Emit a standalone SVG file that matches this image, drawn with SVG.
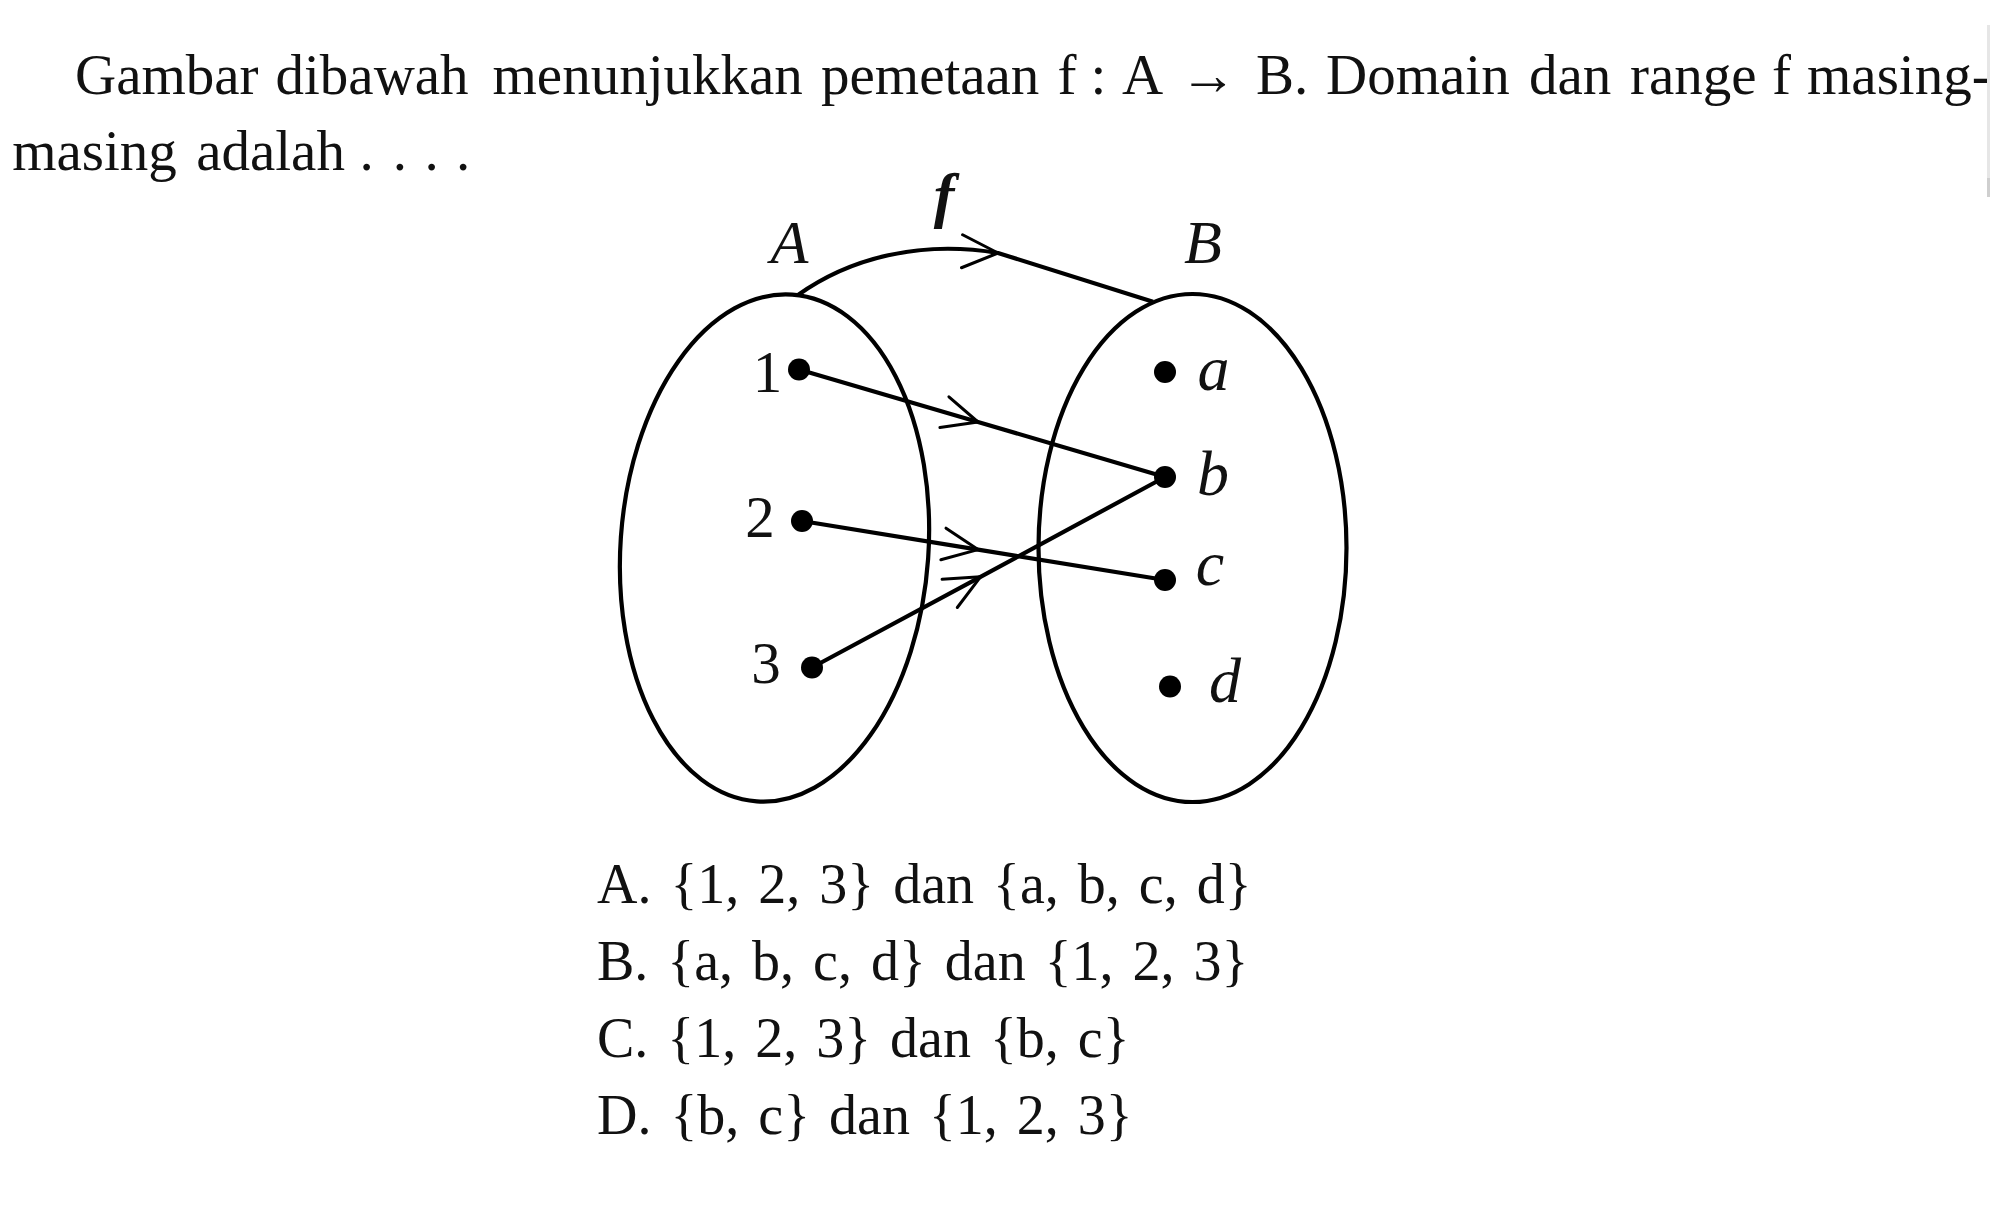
<svg xmlns="http://www.w3.org/2000/svg" width="1990" height="1210" viewBox="0 0 1990 1210">
<defs>
<style>
.txt{font-family:"Liberation Serif","DejaVu Serif",serif;font-size:57px;fill:#111;}
.opt{font-family:"Liberation Serif","DejaVu Serif",serif;font-size:56px;fill:#111;word-spacing:5px;}
.num{font-family:"Liberation Serif","DejaVu Serif",serif;font-size:59px;fill:#111;text-anchor:middle;}
.lc{font-family:"Liberation Serif","DejaVu Serif",serif;font-size:64px;font-style:italic;fill:#111;text-anchor:middle;}
.cap{font-family:"Liberation Serif","DejaVu Serif",serif;font-size:62px;font-style:italic;fill:#111;text-anchor:middle;}
.set{fill:none;stroke:#000;stroke-width:4.2;}
.dot{fill:#000;}
.conn{fill:none;stroke:#000;stroke-width:4.2;stroke-linejoin:round;}
</style>
<marker id="chev" markerUnits="userSpaceOnUse" viewBox="-40 -20 44 40" markerWidth="44" markerHeight="40" refX="0" refY="0" orient="auto">
<path d="M-35,-16 L0,0 L-35,16" fill="none" stroke="#000" stroke-width="3" stroke-linecap="round" stroke-linejoin="round"/>
</marker>
<marker id="chevf" markerUnits="userSpaceOnUse" viewBox="-40 -20 44 40" markerWidth="44" markerHeight="40" refX="0" refY="0" orient="2">
<path d="M-36,-17 L0,0 L-36,16" fill="none" stroke="#000" stroke-width="3" stroke-linecap="round" stroke-linejoin="round"/>
</marker>
</defs>
<rect width="1990" height="1210" fill="#fff"/>

<g id="question">
<text class="txt" y="94"><tspan x="75">Gambar</tspan><tspan x="275.5">dibawah</tspan><tspan x="492.5">menunjukkan</tspan><tspan x="821">pemetaan</tspan><tspan x="1057.5">f</tspan><tspan x="1090.5">:</tspan><tspan x="1122">A</tspan></text>
<text class="txt" x="1208" y="94" text-anchor="middle">→</text>
<text class="txt" y="94"><tspan x="1256">B.</tspan><tspan x="1326">Domain</tspan><tspan x="1529">dan</tspan><tspan x="1630">range</tspan><tspan x="1772">f</tspan><tspan x="1807">masing-</tspan></text>
<text class="txt" y="169.5"><tspan x="12.2">masing</tspan><tspan x="196.2">adalah</tspan><tspan x="359.5">.</tspan><tspan x="392.8">.</tspan><tspan x="424.5">.</tspan><tspan x="456.1">.</tspan></text>
</g>
<rect x="1987" y="25" width="3" height="172" fill="#e6e6e6"/>
<rect x="1987" y="178" width="3" height="19" fill="#cfcfcf"/>

<g id="setA">
<ellipse class="set" cx="774.5" cy="548" rx="154" ry="254" transform="rotate(4 774.5 548)"/>
<text class="cap" x="789.5" y="263">A</text>
</g>
<g id="setB">
<ellipse class="set" cx="1192.5" cy="548" rx="154" ry="254"/>
<text class="cap" x="1203" y="263">B</text>
</g>

<g id="connectors">
<path id="f-map" class="conn" d="M798,295 C850,258 920,240 998,253 L1153,301.7" marker-mid="url(#chevf)"/>
<path id="e1b" class="conn" d="M799,369.5 L978,422 L1165,477" marker-mid="url(#chev)"/>
<path id="e2c" class="conn" d="M802,521 L978,549.6 L1165,580" marker-mid="url(#chev)"/>
<path id="e3b" class="conn" d="M812,667.5 L980.5,576.8 L1165,477" marker-mid="url(#chev)"/>
</g>
<g id="f-label">
<text x="944" y="216" font-family="'Liberation Serif','DejaVu Serif',serif" font-size="62" font-style="italic" font-weight="bold" fill="#111" text-anchor="middle">f</text>
</g>

<g id="n1"><circle class="dot" cx="799" cy="369.5" r="11"/><text class="num" x="767.5" y="391.5">1</text></g>
<g id="n2"><circle class="dot" cx="802" cy="521" r="11"/><text class="num" x="760" y="536.5">2</text></g>
<g id="n3"><circle class="dot" cx="812" cy="667.5" r="11"/><text class="num" x="766" y="683">3</text></g>
<g id="na"><circle class="dot" cx="1165" cy="372" r="11"/><text class="lc" x="1213.5" y="390">a</text></g>
<g id="nb"><circle class="dot" cx="1165" cy="477" r="11"/><text class="lc" x="1213" y="495">b</text></g>
<g id="nc"><circle class="dot" cx="1165" cy="580" r="11"/><text class="lc" x="1210" y="585">c</text></g>
<g id="nd"><circle class="dot" cx="1170" cy="686.5" r="11"/><text class="lc" x="1225" y="701.5">d</text></g>

<g id="options">
<text class="opt" x="597" y="903">A. {1, 2, 3} dan {a, b, c, d}</text>
<text class="opt" x="597" y="980">B. {a, b, c, d} dan {1, 2, 3}</text>
<text class="opt" x="597" y="1057">C. {1, 2, 3} dan {b, c}</text>
<text class="opt" x="597" y="1134">D. {b, c} dan {1, 2, 3}</text>
</g>
</svg>
